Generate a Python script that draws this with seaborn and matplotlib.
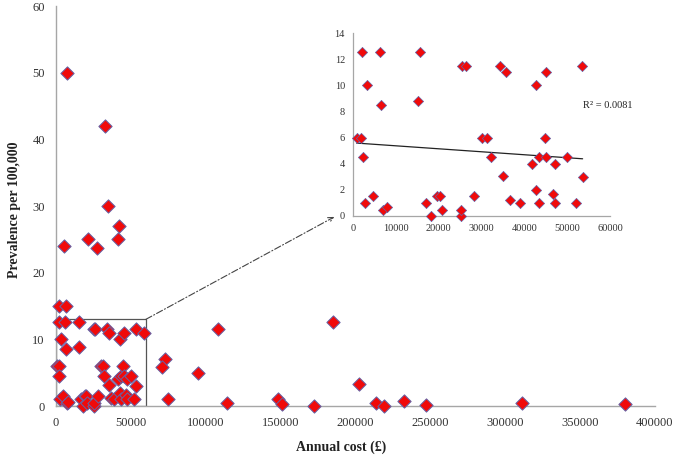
import numpy as np
import pandas as pd
import matplotlib
matplotlib.use("Agg")
import matplotlib.pyplot as plt
from matplotlib.patches import Rectangle, ConnectionPatch
import seaborn as sns

# ---- data ----
# points shown in the zoomed inset (cost < 60000, prevalence < 14)
inset_cost = [780, 1714, 1948, 2182, 3117, 2805, 4597, 6234, 6468, 7013, 7870,
              15117, 15507, 16909, 18234, 19481, 20260, 20727, 25091, 25169,
              25325, 26338, 28130, 30156, 31169, 32104, 34286, 35065, 35610,
              36545, 38961, 41688, 42623, 42623, 43325, 43325, 44883, 45117,
              45117, 46753, 47143, 47143, 50026, 51974, 53532, 53610]
inset_prev = [6.0, 6.0, 12.6, 4.5, 10.0, 1.0, 1.5, 12.6, 8.5, 0.46, 0.66,
              8.8, 12.6, 1.0, 0.03, 1.5, 1.5, 0.46, 0.03, 0.49,
              11.5, 11.5, 1.5, 6.0, 6.0, 4.5, 11.5, 3.1, 11.0,
              1.25, 1.0, 4.0, 10.0, 2.0, 1.0, 4.5, 6.0, 11.0,
              4.5, 1.66, 4.0, 1.0, 4.5, 1.0, 11.5, 3.0]

# remaining points of the full chart
other_cost = [7000, 33000, 35000, 42000, 41500, 21500, 27500, 5500, 2000, 6500,
              59000, 108500, 185000, 72500, 70500, 94500, 202500, 74500, 114500,
              148500, 151000, 172500, 214000, 219000, 232500, 247000, 311500, 380000]
other_prev = [50, 42, 30, 27, 25, 25, 23.7, 24, 15, 15,
              10.9, 11.5, 12.6, 7.0, 5.9, 5.0, 3.3, 1.0, 0.4,
              1.0, 0.35, 0.05, 0.4, 0.0, 0.75, 0.15, 0.5, 0.25]

x_ticks = [0, 50000, 100000, 150000, 200000, 250000, 300000, 350000, 400000]
y_ticks = [0, 10, 20, 30, 40, 50, 60]
inset_x_ticks = [0, 10000, 20000, 30000, 40000, 50000, 60000]
inset_y_ticks = [0, 2, 4, 6, 8, 10, 12, 14]
r2_label = "R\u00b2 = 0.0081"
x_label = "Annual cost (\u00a3)"
y_label = "Prevalence per 100,000"

df_all = pd.DataFrame({"cost": inset_cost + other_cost,
                       "prev": inset_prev + other_prev})
df_in = pd.DataFrame({"cost": inset_cost, "prev": inset_prev})

# ---- style ----
sns.set_style("white")
plt.rcParams["font.family"] = ["Liberation Serif", "DejaVu Serif"]

face = "#F00A0A"
edge = "#6464A8"
spine_col = "#A6A6A6"
txt_col = "#333333"

fig = plt.figure(figsize=(6.9, 4.62), dpi=100)
ax = fig.add_axes([0.0812, 0.1212, 0.868, 0.8658])

sns.scatterplot(data=df_all, x="cost", y="prev", ax=ax, marker="D", s=46,
                color=face, edgecolor=edge, linewidth=0.7, zorder=3, clip_on=False)
ax.set_xlim(0, 400000)
ax.set_ylim(0, 60)
ax.set_xticks(x_ticks)
ax.set_yticks(y_ticks)
ax.set_xticklabels([str(t) for t in x_ticks])
ax.set_yticklabels([str(t) for t in y_ticks])
for s in ["top", "right"]:
    ax.spines[s].set_visible(False)
for s in ["left", "bottom"]:
    ax.spines[s].set_color(spine_col)
    ax.spines[s].set_linewidth(1.0)
ax.tick_params(axis="both", direction="out", length=4, width=0.8, color=spine_col,
               labelsize=9, labelcolor=txt_col, pad=4)
ax.set_xlabel(x_label, fontsize=10, fontweight="bold", color="#222222")
ax.set_ylabel(y_label, fontsize=10, fontweight="bold", color="#222222")
ax.xaxis.set_label_coords((341 - 56) / 599, -0.087)
ax.yaxis.set_label_coords(-0.058, 0.49)

# box marking the zoomed region
ax.add_patch(Rectangle((0, 0), 60000, 13, fill=False, edgecolor="#555555",
                       linewidth=0.9, zorder=2))

# ---- inset ----
axi = fig.add_axes([0.512, 0.5325, 0.372, 0.3955])
sns.scatterplot(data=df_in, x="cost", y="prev", ax=axi, marker="D", s=27,
                color=face, edgecolor=edge, linewidth=0.5, zorder=3, clip_on=False)
sns.regplot(data=df_in, x="cost", y="prev", ax=axi, scatter=False, ci=None,
            truncate=True, line_kws={"color": "#222222", "linewidth": 0.9})
axi.set_xlim(0, 60000)
axi.set_ylim(0, 14)
axi.set_xticks(inset_x_ticks)
axi.set_yticks(inset_y_ticks)
axi.set_xticklabels([str(t) for t in inset_x_ticks])
axi.set_yticklabels([str(t) for t in inset_y_ticks])
axi.set_xlabel("")
axi.set_ylabel("")
axi.patch.set_alpha(0)
for s in ["top", "right"]:
    axi.spines[s].set_visible(False)
for s in ["left", "bottom"]:
    axi.spines[s].set_color(spine_col)
    axi.spines[s].set_linewidth(0.9)
axi.tick_params(axis="both", direction="out", length=3, width=0.7, color=spine_col,
                labelsize=7.5, labelcolor=txt_col, pad=3)
axi.text(53600, 8.5, r2_label, fontsize=7.5, color="#222222", va="center",
         ha="left", clip_on=False)

# dash-dot arrow from the box to the inset
con = ConnectionPatch(xyA=(60000, 13), coordsA="data", axesA=ax,
                      xyB=(-0.074, -0.005), coordsB=axi.transAxes, axesB=axi,
                      arrowstyle="->", linestyle=(0, (6, 2, 1, 2)),
                      color="#444444", linewidth=0.8, mutation_scale=9)
fig.add_artist(con)

fig.savefig("out.png", dpi=100)
